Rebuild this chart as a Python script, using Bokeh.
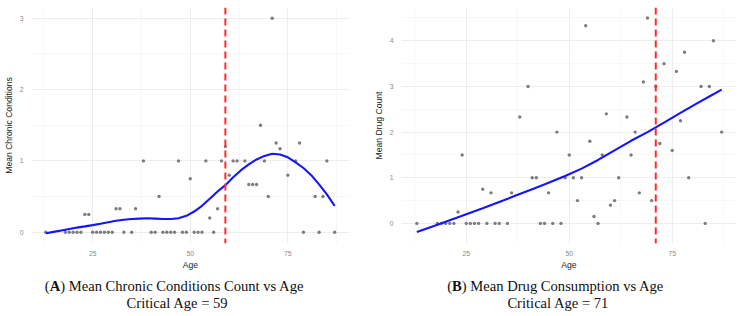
from bokeh.plotting import figure
from bokeh.layouts import row, column
from bokeh.models import FixedTicker, Span, Label, Range1d
from bokeh.embed import file_html
from bokeh.resources import INLINE

# ---- Panel A: mean chronic conditions per age ----
age_a = [13, 18, 19, 20, 21, 22, 23, 24, 25, 26, 27, 28, 29, 30, 31, 32, 33, 35, 36,
         38, 40, 41, 42, 43, 44, 45, 46, 47, 48, 49, 50, 51, 52, 53, 54, 55, 56, 57,
         58, 59, 60, 61, 62, 64, 65, 66, 67, 68, 69, 70, 71, 72, 73, 75, 77, 78, 79,
         82, 83, 84, 85, 87]
chronic_a = [0, 0, 0, 0, 0, 0, 0.25, 0.25, 0, 0, 0, 0, 0, 0, 0.33, 0.33, 0, 0, 0.33,
             1, 0, 0, 0.5, 0, 0, 0, 0, 1, 0, 0, 0.75, 0, 0, 0, 1, 0.2, 0, 0.33,
             1, 1.2, 0.8, 1, 1, 1, 0.67, 0.67, 0.67, 1.5, 1, 0.5, 3, 1.25, 1.17, 0.8, 1, 1.25, 0,
             0.5, 0, 0.5, 1, 0]
# smoothed trend (loess) for panel A
fit_age_a = [13, 15, 17, 19, 21, 23, 25, 27, 29, 31, 33, 35, 37, 39, 41, 43, 45, 47, 49,
             51, 53, 55, 57, 59, 61, 63, 65, 67, 69, 71, 73, 75, 77, 79, 81, 83, 85, 87]
fit_chronic_a = [-0.015, 0.005, 0.025, 0.045, 0.065, 0.082, 0.10, 0.12, 0.14, 0.16, 0.175,
                 0.185, 0.19, 0.195, 0.19, 0.185, 0.185, 0.195, 0.23, 0.29, 0.37, 0.47,
                 0.57, 0.66, 0.77, 0.87, 0.95, 1.02, 1.07, 1.10, 1.09, 1.05, 0.98, 0.90,
                 0.80, 0.67, 0.53, 0.37]
critical_a = 59

# ---- Panel B: mean drug count per age ----
age_b = [13, 18, 19, 20, 21, 22, 23, 24, 25, 26, 27, 28, 29, 30, 31, 32, 33, 35, 36,
         38, 40, 41, 42, 43, 44, 45, 46, 47, 48, 49, 50, 51, 52, 53, 54, 55, 56, 57,
         58, 59, 60, 61, 62, 64, 65, 66, 67, 68, 69, 70, 71, 72, 73, 75, 76, 77, 78,
         79, 82, 83, 84, 85, 87]
drug_b = [0, 0, 0, 0, 0, 0, 0.25, 1.5, 0, 0, 0, 0, 0.75, 0, 0.67, 0, 0, 0, 0.67,
          2.33, 3, 1, 1, 0, 0, 0.67, 0, 2, 0, 1, 1.5, 1, 0.5, 1, 4.33, 1.8, 0.15, 0,
          1.5, 2.4, 0.4, 0.5, 1, 2.33, 1.5, 2, 0.67, 3.1, 4.5, 0.5, 3, 1.75, 3.5, 1.6, 3.33, 2.25, 3.75,
          1, 3, 0, 3, 4, 2]
# smoothed trend (loess) for panel B
fit_age_b = [13, 17, 21, 25, 29, 33, 37, 41, 45, 49, 53, 57, 61, 65, 69, 73, 77, 81, 84, 87]
fit_drug_b = [-0.19, -0.06, 0.07, 0.20, 0.33, 0.47, 0.61, 0.75, 0.89, 1.04, 1.20, 1.39,
              1.60, 1.81, 2.00, 2.21, 2.42, 2.63, 2.78, 2.93]
critical_b = 71

x_ticks = [25, 50, 75]
x_minor = [12.5, 37.5, 62.5, 87.5]

captions = [("A", ") Mean Chronic Conditions Count vs Age", f"Critical Age = {critical_a}"),
            ("B", ") Mean Drug Consumption vs Age", f"Critical Age = {critical_b}")]

SANS = "Liberation Sans"
SERIF = "Liberation Serif"
CAP_SIZE = 14.6
PANEL_H = 276
CAP_H = 316 - PANEL_H


def make_panel(width, borders, x_range, y_range, y_ticks, y_minor, y_title,
               ages, values, fit_ages, fit_values, critical):
    left, right, top, bottom = borders
    p = figure(width=width, height=PANEL_H, x_range=x_range, y_range=y_range,
               output_backend="svg", toolbar_location=None,
               min_border_left=left, min_border_right=right,
               min_border_top=top, min_border_bottom=bottom)
    p.outline_line_color = None
    p.background_fill_color = "white"
    p.border_fill_color = "white"

    p.xaxis.ticker = FixedTicker(ticks=x_ticks, minor_ticks=x_minor)
    p.yaxis.ticker = FixedTicker(ticks=y_ticks, minor_ticks=y_minor)
    p.xaxis.axis_label = "Age"
    p.yaxis.axis_label = y_title
    for ax in (p.xaxis[0], p.yaxis[0]):
        ax.axis_line_color = None
        ax.major_tick_line_color = None
        ax.minor_tick_line_color = None
        ax.major_tick_out = 0
        ax.major_tick_in = 0
        ax.major_label_text_font = SANS
        ax.major_label_text_font_size = "6.8px"
        ax.major_label_text_color = "#8a8a8a"
        ax.axis_label_text_font = SANS
        ax.axis_label_text_font_size = "8.6px"
        ax.axis_label_text_font_style = "normal"
        ax.axis_label_text_color = "#222222"
    p.xaxis.major_label_standoff = 3
    p.xaxis.axis_label_standoff = 1
    p.yaxis.major_label_standoff = 4
    p.yaxis.axis_label_standoff = 3

    for g in (p.xgrid[0], p.ygrid[0]):
        g.grid_line_color = "#e8e8e8"
        g.grid_line_width = 0.8
        g.minor_grid_line_color = "#f1f1f1"
        g.minor_grid_line_width = 0.6

    p.scatter(ages, values, size=3.4, color="#7d7d7d", line_color=None)
    p.line(fit_ages, fit_values, line_color="#1414ff", line_width=2.1)
    p.add_layout(Span(location=critical, dimension="height", line_color="#ff2b2b",
                      line_width=2, line_dash="7 4"))
    return p


p_a = make_panel(370, (23, 21, 7, PANEL_H - 243), (9.33, 90.8), (-0.158, 3.15),
                 [0, 1, 2, 3], [0.5, 1.5, 2.5], "Mean Chronic Conditions",
                 age_a, chronic_a, fit_age_a, fit_chronic_a, critical_a)
p_b = make_panel(369, (29, 3, 4, PANEL_H - 247), (9.28, 90.6), (-0.44, 4.73),
                 [0, 1, 2, 3, 4], [0.5, 1.5, 2.5, 3.5, 4.5], "Mean Drug Count",
                 age_b, drug_b, fit_age_b, fit_drug_b, critical_b)

# caption strip under both panels, measured in pixels from its top-left corner
cap = figure(width=739, height=CAP_H, x_range=Range1d(0, 739), y_range=Range1d(CAP_H, 0),
             x_axis_type=None, y_axis_type=None, output_backend="svg",
             toolbar_location=None, min_border=0)
cap.outline_line_color = None
cap.grid.visible = False
cap.border_fill_color = "white"
cap.background_fill_color = "white"

common = dict(text_font=SERIF, text_font_size=f"{CAP_SIZE}px", text_color="#111111",
              text_baseline="middle")
# (left edge of line 1, width of bold letter in em, centre of line 2)
cap_pos = [(44.3, 0.722, 177.0), (446.7, 0.667, 557.8)]
line1_y = 285.8 - PANEL_H
line2_y = 302.8 - PANEL_H
for (letter, rest, line2), (x0, lw, xc) in zip(captions, cap_pos):
    cap.add_layout(Label(x=x0, y=line1_y, text="(", text_align="left", **common))
    cap.add_layout(Label(x=x0 + 0.333 * CAP_SIZE, y=line1_y, text=letter, text_align="left",
                         text_font_style="bold", **common))
    cap.add_layout(Label(x=x0 + (0.333 + lw) * CAP_SIZE, y=line1_y, text=rest,
                         text_align="left", **common))
    cap.add_layout(Label(x=xc, y=line2_y, text=line2, text_align="center", **common))

layout = column(row(p_a, p_b), cap)
open("out.html", "w").write(file_html(layout, INLINE))
